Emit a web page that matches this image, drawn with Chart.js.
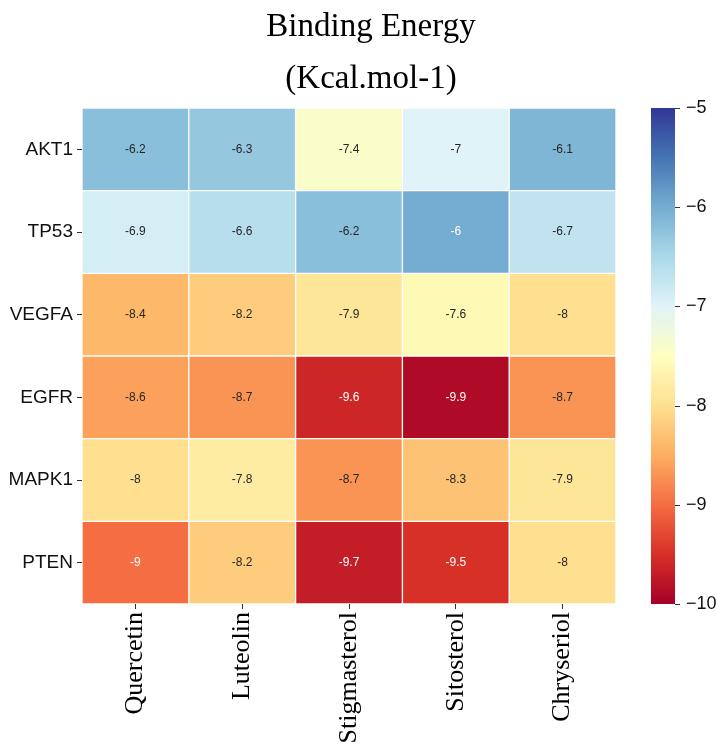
<!DOCTYPE html>
<html>
<head>
<meta charset="utf-8">
<script src="https://cdn.jsdelivr.net/npm/chart.js@4.4.1/dist/chart.umd.min.js"></script>
<style>
  body { margin: 0; background: #fff; }
  #wrap { width: 717px; height: 746px; }
</style>
</head>
<body>
<div id="wrap"><canvas id="heatmap" width="717" height="746"></canvas></div>
<script>
const genes = ['AKT1', 'TP53', 'VEGFA', 'EGFR', 'MAPK1', 'PTEN'];
const compounds = ['Quercetin', 'Luteolin', 'Stigmasterol', 'Sitosterol', 'Chryseriol'];

// binding energy per gene, one value per compound
const akt1  = [-6.2, -6.3, -7.4, -7.0, -6.1];
const tp53  = [-6.9, -6.6, -6.2, -6.0, -6.7];
const vegfa = [-8.4, -8.2, -7.9, -7.6, -8.0];
const egfr  = [-8.6, -8.7, -9.6, -9.9, -8.7];
const mapk1 = [-8.0, -7.8, -8.7, -8.3, -7.9];
const pten  = [-9.0, -8.2, -9.7, -9.5, -8.0];
const energies = [akt1, tp53, vegfa, egfr, mapk1, pten];

const vmin = -10, vmax = -5;

// RdYlBu
const rdylbu = [
  [165, 0, 38], [215, 48, 39], [244, 109, 67], [253, 174, 97], [254, 224, 144],
  [255, 255, 191], [224, 243, 248], [171, 217, 233], [116, 173, 209], [69, 117, 180], [49, 54, 149]
];

function cmap(v) {
  let t = (v - vmin) / (vmax - vmin);
  t = Math.min(1, Math.max(0, t)) * (rdylbu.length - 1);
  const i = Math.min(rdylbu.length - 2, Math.floor(t));
  const f = t - i;
  const a = rdylbu[i], b = rdylbu[i + 1];
  return a.map((c, k) => Math.round(c + (b[k] - c) * f));
}

function rgb(c) { return 'rgb(' + c.join(',') + ')'; }

function luminance(c) {
  const lin = c.map(x => {
    x = x / 255;
    return x <= 0.03928 ? x / 12.92 : Math.pow((x + 0.055) / 1.055, 2.4);
  });
  return 0.2126 * lin[0] + 0.7152 * lin[1] + 0.0722 * lin[2];
}

const cellLabels = {
  id: 'cellLabels',
  afterDatasetsDraw(chart) {
    const ctx = chart.ctx;
    ctx.save();
    ctx.font = '12px "Liberation Sans", Arial, sans-serif';
    ctx.textAlign = 'center';
    ctx.textBaseline = 'middle';
    energies.forEach((row, i) => {
      chart.getDatasetMeta(i).data.forEach((bar, j) => {
        const v = row[j];
        ctx.fillStyle = luminance(cmap(v)) > 0.408 ? '#262626' : '#ffffff';
        ctx.fillText(String(v), bar.x, (bar.y + bar.base) / 2);
      });
    });
    ctx.restore();
  }
};

const colorbar = {
  id: 'colorbar',
  afterDraw(chart) {
    const ctx = chart.ctx;
    const cb = chart.scales.cb;
    const x0 = 651, x1 = 675;
    const yLo = cb.getPixelForValue(vmin), yHi = cb.getPixelForValue(vmax);
    const grad = ctx.createLinearGradient(0, yLo, 0, yHi);
    rdylbu.forEach((c, i) => grad.addColorStop(i / (rdylbu.length - 1), rgb(c)));
    ctx.save();
    ctx.fillStyle = grad;
    ctx.fillRect(x0, yHi, x1 - x0, yLo - yHi);
    ctx.strokeStyle = '#333';
    ctx.lineWidth = 1;
    cb.ticks.forEach(t => {
      const y = Math.round(cb.getPixelForValue(t.value)) + 0.5;
      ctx.beginPath();
      ctx.moveTo(x1, y);
      ctx.lineTo(x1 + 5, y);
      ctx.stroke();
    });
    ctx.restore();
  }
};

const datasets = genes.map((g, i) => ({
  label: g,
  data: compounds.map(() => 1),
  backgroundColor: energies[i].map(v => rgb(cmap(v))),
  borderColor: '#ffffff',
  borderWidth: 1,
  borderSkipped: false,
  categoryPercentage: 1,
  barPercentage: 1
}));

new Chart(document.getElementById('heatmap').getContext('2d'), {
  type: 'bar',
  data: { labels: compounds, datasets: datasets },
  plugins: [cellLabels, colorbar],
  options: {
    responsive: false,
    animation: false,
    events: [],
    // negative right padding pushes the title centre over the heatmap + colorbar
    layout: { padding: { left: 0, right: -25, top: 0, bottom: 0 } },
    plugins: {
      legend: { display: false },
      tooltip: { enabled: false },
      title: {
        display: true,
        text: ['Binding Energy', '(Kcal.mol-1)'],
        color: '#000',
        font: { family: '"Liberation Serif", "Times New Roman", serif', size: 33, weight: 'normal', lineHeight: 1.576 },
        padding: { top: 1, bottom: 3 }
      }
    },
    scales: {
      x: {
        type: 'category',
        stacked: true,
        grid: { display: true, offset: false, drawOnChartArea: false, drawTicks: true, tickLength: 5, color: '#333' },
        border: { display: false },
        ticks: {
          color: '#000',
          font: { family: '"Liberation Serif", "Times New Roman", serif', size: 26 },
          minRotation: 90,
          maxRotation: 90,
          padding: 3,
          autoSkip: false
        },
        afterFit(scale) { scale.height = 142; }
      },
      y: {
        type: 'linear',
        stacked: true,
        reverse: true,
        min: 0,
        max: genes.length,
        grid: { display: true, drawOnChartArea: false, drawTicks: true, tickLength: 5, color: '#333' },
        border: { display: false },
        afterBuildTicks(scale) {
          scale.ticks = genes.map((g, i) => ({ value: i + 0.5 }));
        },
        ticks: {
          color: '#111',
          font: { family: '"Liberation Sans", Arial, sans-serif', size: 19 },
          padding: 4,
          callback: v => genes[Math.floor(v)]
        },
        afterFit(scale) { scale.width = 82; }
      },
      cb: {
        type: 'linear',
        position: 'right',
        min: vmin,
        max: vmax,
        grid: { display: false, drawOnChartArea: false, drawTicks: false },
        border: { display: false },
        ticks: {
          stepSize: 1,
          color: '#111',
          font: { family: '"Liberation Sans", Arial, sans-serif', size: 18 },
          padding: 70,
          callback: v => '\u2212' + Math.abs(v)
        },
        afterFit(scale) { scale.width = 126; }
      }
    }
  }
});
</script>
</body>
</html>
